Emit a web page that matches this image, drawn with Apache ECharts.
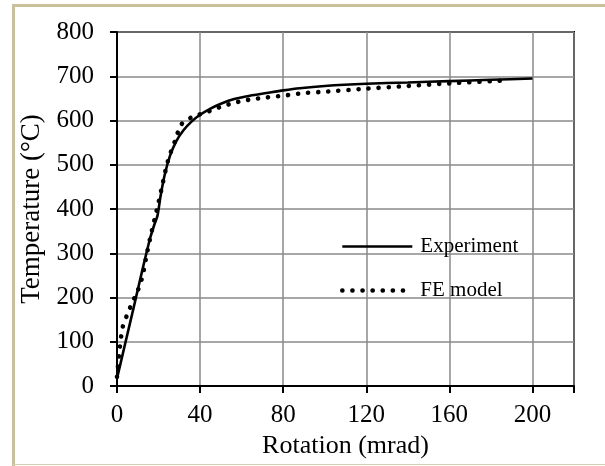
<!DOCTYPE html>
<html>
<head>
<meta charset="utf-8">
<script src="https://cdn.jsdelivr.net/npm/echarts@6/dist/echarts.min.js"></script>
<style>
  html, body { margin: 0; padding: 0; background: #fff; }
  #chart { width: 605px; height: 466px; }
</style>
</head>
<body>
<div id="chart"></div>
<script>
// Measured temperature vs rotation
const expRotation = [0, 4, 8, 12, 16, 18, 19.5, 21, 23, 25.5, 28.5, 32, 36, 40, 45, 50, 56, 64, 72, 80, 88, 100, 120, 140, 160, 180, 200];
const expTemp     = [17, 97, 177, 258, 335, 365, 385, 430, 478, 520, 553, 578, 598, 613, 627, 638, 648, 656, 662, 668, 673, 678, 683, 686, 689, 692, 695];

// Finite element prediction
const feRotation = [0, 1, 2, 3, 5, 7, 9, 11, 12.5, 14, 16, 18, 20, 22, 24, 26, 28, 30.5, 33, 36, 40, 45, 50, 55, 60, 65, 70, 80, 90, 100, 120, 140, 160, 185];
const feTemp     = [21, 70, 112, 138, 162, 185, 205, 228, 252, 290, 335, 375, 415, 458, 500, 530, 555, 588, 600, 607, 614, 622, 631, 638, 644, 648, 651, 656, 662, 665, 672, 678, 684, 690];

const xTicks = [0, 40, 80, 120, 160, 200];
const seriesNames = ['Experiment', 'FE model'];

const pair = (xs, ys) => xs.map((x, i) => [x, ys[i]]);
const serif = '"Liberation Serif", "Times New Roman", serif';

const solidStyle = { color: '#000', width: 2.6 };
const dotStyle = { color: '#000', width: 4.6, type: [0.1, 10], cap: 'round' };

const chart = echarts.init(document.getElementById('chart'), null, { renderer: 'canvas' });

chart.setOption({
  animation: false,
  backgroundColor: '#ffffff',
  textStyle: { fontFamily: serif, color: '#000' },
  grid: {
    left: 117, right: 31, top: 32, bottom: 80,
    show: true, borderColor: '#000', borderWidth: 2,
    containLabel: false
  },
  graphic: [
    // tan frame around the figure
    { type: 'line', shape: { x1: 13.5, y1: 4, x2: 13.5, y2: 466 }, style: { stroke: '#c9c09d', lineWidth: 3 }, silent: true },
    { type: 'line', shape: { x1: 12, y1: 5.5, x2: 605, y2: 5.5 }, style: { stroke: '#c9c09d', lineWidth: 3 }, silent: true },
    { type: 'line', shape: { x1: 13, y1: 464.5, x2: 605, y2: 464.5 }, style: { stroke: '#d6cfb3', lineWidth: 1 }, silent: true }
  ],
  legend: {
    orient: 'vertical',
    left: 335, top: 231,
    itemWidth: 70, itemHeight: 14, itemGap: 23,
    itemStyle: { opacity: 0 },
    data: [
      { name: seriesNames[0], lineStyle: solidStyle },
      { name: seriesNames[1], lineStyle: dotStyle }
    ],
    textStyle: { fontFamily: serif, fontSize: 21, color: '#000', padding: [0, 0, 0, 3] },
    selectedMode: false
  },
  xAxis: {
    type: 'value',
    min: 0, max: 220, interval: 40,
    name: 'Rotation (mrad)',
    nameLocation: 'middle',
    nameGap: 40,
    nameTextStyle: { fontFamily: serif, fontSize: 26, color: '#000' },
    axisLine: { show: true, onZero: false, lineStyle: { color: '#000', width: 2 } },
    axisTick: { show: true, inside: false, length: 7, lineStyle: { color: '#000', width: 2 } },
    axisLabel: {
      fontFamily: serif, fontSize: 25, color: '#000', margin: 17,
      formatter: v => (xTicks.indexOf(v) >= 0 ? String(v) : '')
    },
    splitLine: { show: true, lineStyle: { color: '#8a8a8a', width: 1.5 } }
  },
  yAxis: {
    type: 'value',
    min: 0, max: 800, interval: 100,
    name: 'Temperature (°C)',
    nameLocation: 'middle',
    nameGap: 72,
    nameTextStyle: { fontFamily: serif, fontSize: 27, color: '#000' },
    axisLine: { show: true, onZero: false, lineStyle: { color: '#000', width: 2 } },
    axisTick: { show: true, inside: false, length: 7, lineStyle: { color: '#000', width: 2 } },
    axisLabel: { fontFamily: serif, fontSize: 25, color: '#000', margin: 23 },
    splitLine: { show: true, lineStyle: { color: '#8a8a8a', width: 1.5 } }
  },
  series: [
    {
      name: seriesNames[0],
      type: 'line',
      data: pair(expRotation, expTemp),
      symbol: 'none',
      smooth: 0.25,
      lineStyle: solidStyle,
      itemStyle: { color: '#000' },
      z: 3
    },
    {
      name: seriesNames[1],
      type: 'line',
      data: pair(feRotation, feTemp),
      symbol: 'none',
      smooth: 0.25,
      lineStyle: dotStyle,
      itemStyle: { color: '#000' },
      z: 2
    }
  ]
});
</script>
</body>
</html>
